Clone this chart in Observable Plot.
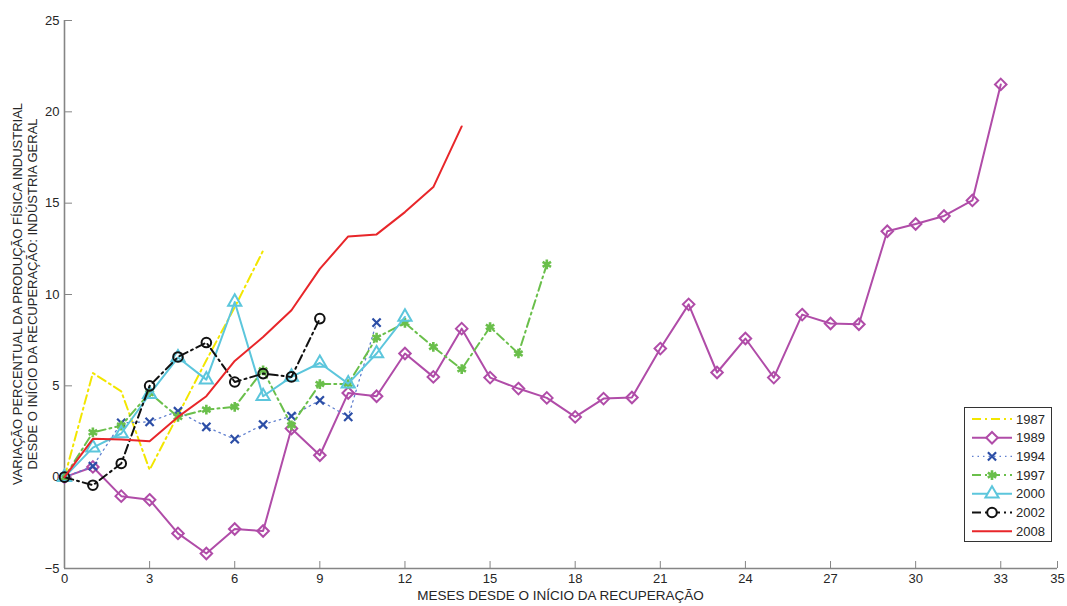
<!DOCTYPE html>
<html>
<head>
<meta charset="utf-8">
<script src="https://cdn.jsdelivr.net/npm/d3@7"></script>
<script src="https://cdn.jsdelivr.net/npm/@observablehq/plot@0.6"></script>
<style>
  body { margin: 0; background: #fff; }
  #chart { position: relative; width: 1067px; height: 606px; font-family: "Liberation Sans", Arial, sans-serif; }
  #legend { position: absolute; left: 964px; top: 407px; }
</style>
</head>
<body>
<div id="chart"></div>
<script>
// Variação percentual acumulada da produção industrial, mês a mês desde o início de cada recuperação
const y1987 = [0, 5.7, 4.7, 0.4, 3.4, 6.4, 9.3, 12.4];
const y1989 = [0, 0.56, -1.04, -1.24, -3.08, -4.18, -2.84, -2.95, 2.66, 1.2, 4.61, 4.43, 6.77, 5.49, 8.13, 5.45, 4.85, 4.34, 3.3, 4.3, 4.36, 7.04, 9.46, 5.73, 7.59, 5.45, 8.9, 8.41, 8.37, 13.46, 13.86, 14.3, 15.15, 21.5];
const y1994 = [0, 0.6, 2.97, 3.03, 3.61, 2.75, 2.08, 2.88, 3.34, 4.21, 3.3, 8.46];
const y1997 = [0, 2.45, 2.82, 4.61, 3.3, 3.7, 3.85, 5.85, 2.84, 5.1, 5.1, 7.64, 8.44, 7.13, 5.91, 8.22, 6.77, 11.65];
const y2000 = [0, 1.62, 2.39, 4.54, 6.55, 5.34, 9.59, 4.43, 5.49, 6.25, 5.12, 6.77, 8.77];
const y2002 = [0, -0.44, 0.75, 5.0, 6.58, 7.37, 5.21, 5.67, 5.49, 8.68];
const y2008 = [0, 2.1, 2.06, 1.97, 3.3, 4.43, 6.36, 7.67, 9.14, 11.4, 13.18, 13.29, 14.51, 15.88, 19.2];

const xTicks = [0, 3, 6, 9, 12, 15, 18, 21, 24, 27, 30, 33, 35];
const yTicks = [-5, 0, 5, 10, 15, 20, 25];
const xTitle = "MESES DESDE O INÍCIO DA RECUPERAÇÃO";
const yTitle = ["VARIAÇÃO PERCENTUAL DA PRODUÇÃO FÍSICA INDUSTRIAL", "DESDE O INÍCIO DA RECUPERAÇÃO: INDÚSTRIA GERAL"];

// Estilo de cada série: cor, tracejado, marcador
const dashDot = "9,4,2,4";
const series = [
  {name: "1987", values: y1987, color: "#f2e600", width: 2, dash: dashDot, symbol: null},
  {name: "1989", values: y1989, color: "#b04ca8", width: 2, dash: null, symbol: "diamond2", r: 5.2, mStroke: "#b04ca8", mWidth: 2},
  {name: "1994", values: y1994, color: "#5f7fcf", width: 1.3, dash: "1.5,4", symbol: "times", r: 3.8, mStroke: "#2c4ea6", mWidth: 2.2},
  {name: "1997", values: y1997, color: "#6abf4b", width: 2, dash: dashDot, symbol: "asterisk", r: 4.6, mStroke: "#6abf4b", mWidth: 2.6},
  {name: "2000", values: y2000, color: "#5cc6dc", width: 2, dash: null, symbol: "triangle", r: 4.9, mStroke: "#5cc6dc", mWidth: 2},
  {name: "2002", values: y2002, color: "#111111", width: 2, dash: dashDot, symbol: "circle", r: 4.8, mStroke: "#111111", mWidth: 2},
  {name: "2008", values: y2008, color: "#e8262a", width: 2, dash: null, symbol: null}
];

const rows = s => s.values.map((v, i) => ({mes: i, v}));

const marks = [
  Plot.ruleX([0], {stroke: "#858585", strokeWidth: 1.6}),
  Plot.ruleY([-5], {stroke: "#858585", strokeWidth: 1.6}),
  Plot.axisX(xTicks, {anchor: "bottom", tickSize: -7, tickPadding: 12, stroke: "#858585", fill: "#262626", label: null, fontSize: 13}),
  Plot.axisY(yTicks, {anchor: "left", tickSize: -8, tickPadding: 13, stroke: "#858585", fill: "#262626", label: null, fontSize: 13})
];

for (const s of series) {
  marks.push(Plot.line(rows(s), {
    x: "mes", y: "v", stroke: s.color, strokeWidth: s.width,
    strokeDasharray: s.dash || undefined, curve: "linear"
  }));
  if (s.symbol) {
    marks.push(Plot.dot(rows(s), {
      x: "mes", y: "v", symbol: s.symbol, r: s.r,
      fill: "none", stroke: s.mStroke, strokeWidth: s.mWidth
    }));
  }
}

const chart = Plot.plot({
  width: 1067,
  height: 606,
  marginLeft: 64,
  marginRight: 10,
  marginTop: 20,
  marginBottom: 38,
  style: {fontFamily: "'Liberation Sans', Arial, sans-serif", fontSize: "13px", background: "#fff", color: "#262626"},
  x: {domain: [0, 35]},
  y: {domain: [-5, 25]},
  marks
});

const svg = d3.select(chart);
const xMid = (64 + 1057) / 2;
const yMid = (20 + 568) / 2;

svg.append("text")
  .attr("x", xMid).attr("y", 600)
  .attr("text-anchor", "middle")
  .attr("fill", "#262626")
  .attr("font-size", 13.5)
  .text(xTitle);

const yt = svg.append("text")
  .attr("transform", `translate(22,${yMid}) rotate(-90)`)
  .attr("text-anchor", "middle")
  .attr("fill", "#262626")
  .attr("font-size", 13);
yTitle.forEach((t, i) => yt.append("tspan").attr("x", 0).attr("dy", i === 0 ? 0 : 15).text(t));

document.getElementById("chart").appendChild(chart);

// Legenda no canto inferior direito da área do gráfico
const lw = 88, lh = 135, rowH = 18.7, top0 = 12;
const leg = d3.select("#chart").append("svg")
  .attr("id", "legend")
  .attr("width", lw).attr("height", lh);
leg.append("rect")
  .attr("x", 0.5).attr("y", 0.5).attr("width", lw - 1).attr("height", lh - 1)
  .attr("fill", "#fff").attr("stroke", "#333").attr("stroke-width", 1);

series.forEach((s, i) => {
  const cy = top0 + i * rowH;
  const g = leg.append("g").attr("transform", `translate(0,${cy})`);
  g.append("line")
    .attr("x1", 8).attr("x2", 48).attr("y1", 0).attr("y2", 0)
    .attr("stroke", s.color).attr("stroke-width", s.width)
    .attr("stroke-dasharray", s.dash);
  if (s.symbol) {
    const sym = {diamond2: d3.symbolDiamond2, times: d3.symbolTimes, asterisk: d3.symbolAsterisk, triangle: d3.symbolTriangle, circle: d3.symbolCircle}[s.symbol];
    g.append("path")
      .attr("transform", "translate(28,0)")
      .attr("d", d3.symbol(sym, Math.PI * s.r * s.r)())
      .attr("fill", "#fff").attr("stroke", s.mStroke).attr("stroke-width", s.mWidth);
  }
  g.append("text")
    .attr("x", 52).attr("y", 0).attr("dy", "0.35em")
    .attr("font-size", 13).attr("fill", "#262626")
    .text(s.name);
});
</script>
</body>
</html>
